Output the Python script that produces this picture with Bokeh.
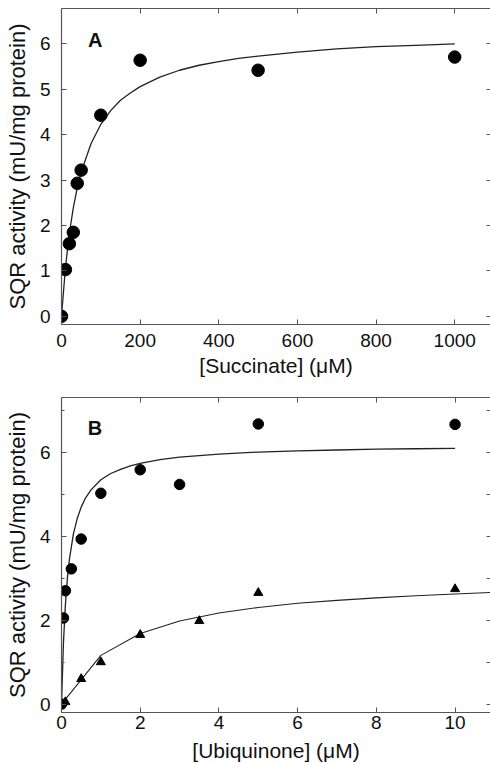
from bokeh.plotting import figure
from bokeh.layouts import column
from bokeh.models import LinearAxis, FixedTicker, Range1d, Label
from bokeh.embed import file_html
from bokeh.resources import INLINE

# ---------------- data ----------------
# Panel A: succinate titration
succinate = [0, 10, 20, 30, 40, 50, 100, 200, 500, 1000]
sqr_a = [0, 1.03, 1.6, 1.85, 2.93, 3.22, 4.43, 5.64, 5.42, 5.71]
fit_a_x = [0, 10, 20, 30, 40, 50, 75, 100, 125, 150, 175, 200, 250, 300, 350, 400, 450,
           500, 600, 700, 800, 900, 1000]
fit_a_y = [0, 1.07, 1.83, 2.39, 2.83, 3.18, 3.80, 4.23, 4.53, 4.76, 4.92, 5.06, 5.27, 5.42,
           5.53, 5.61, 5.68, 5.73, 5.82, 5.89, 5.94, 5.97, 6.0]

# Panel B: ubiquinone titration (circles and triangles)
ubq_c = [0, 0.05, 0.1, 0.25, 0.5, 1, 2, 3, 5, 10]
sqr_b_c = [0, 2.05, 2.7, 3.22, 3.93, 5.02, 5.58, 5.23, 6.67, 6.66]
fit_bc_x = [0, 0.05, 0.1, 0.15, 0.2, 0.3, 0.4, 0.5, 0.6, 0.75, 1, 1.25, 1.5, 1.75, 2, 2.5,
            3, 4, 5, 6, 7, 8, 9, 10]
fit_bc_y = [0, 1.47, 2.38, 3.0, 3.44, 4.04, 4.42, 4.69, 4.89, 5.10, 5.34, 5.49, 5.59, 5.67,
            5.73, 5.82, 5.88, 5.95, 6.0, 6.03, 6.05, 6.07, 6.08, 6.09]

ubq_t = [0.1, 0.5, 1, 2, 3.5, 5, 10]
sqr_b_t = [0.05, 0.6, 1.0, 1.65, 1.98, 2.65, 2.74]
fit_bt_x = [0, 1, 2, 3, 4, 5, 6, 7, 8, 9, 10, 11]
fit_bt_y = [0, 1.16, 1.68, 1.98, 2.17, 2.30, 2.40, 2.47, 2.53, 2.58, 2.62, 2.66]

xticks_a = [0, 200, 400, 600, 800, 1000]
yticks_a = [0, 1, 2, 3, 4, 5, 6]
xticks_b = [0, 2, 4, 6, 8, 10]
yticks_b = [0, 2, 4, 6]
yminor_b = [0, 1, 2, 3, 4, 5, 6, 7]

FONT = "Liberation Sans"
AXC = "#555555"
TXT = "#111111"


def style_axis(ax, ticks, minor=None, tick_in=5):
    ax.ticker = FixedTicker(ticks=ticks, minor_ticks=minor or [])
    ax.axis_line_color = AXC
    ax.axis_line_width = 1.2
    ax.major_tick_line_color = AXC
    ax.minor_tick_line_color = AXC
    ax.major_tick_in = tick_in
    ax.major_tick_out = 0
    ax.minor_tick_in = 3
    ax.minor_tick_out = 0
    ax.major_label_text_font = FONT
    ax.major_label_text_font_size = "19px"
    ax.major_label_text_color = TXT
    ax.axis_label_text_font = FONT
    ax.axis_label_text_font_size = "21px"
    ax.axis_label_text_font_style = "normal"
    ax.axis_label_text_color = TXT


def blank_axis(ticks, minor=None, line=True, tick_in=5):
    ax = LinearAxis()
    style_axis(ax, ticks, minor, tick_in)
    ax.major_label_overrides = {t: "" for t in ticks}
    ax.major_label_text_font_size = "0px"
    ax.major_label_standoff = 0
    if not line:
        ax.axis_line_color = None
    return ax


def make_fig(height, xr, yr, mtop, mbottom):
    p = figure(width=490, height=height, x_range=Range1d(*xr), y_range=Range1d(*yr),
               output_backend="svg", toolbar_location=None,
               min_border_left=61, min_border_right=0,
               min_border_top=mtop, min_border_bottom=mbottom)
    p.outline_line_color = None
    p.grid.visible = False
    p.background_fill_color = "white"
    p.border_fill_color = "white"
    return p


def style_y(ax):
    ax.axis_label = "SQR activity (mU/mg protein)"
    ax.axis_label_text_font_size = "22px"
    ax.major_label_standoff = 11
    ax.axis_label_standoff = 7


# ---------------- panel A ----------------
pa = make_fig(385, (0, 1091), (-0.18, 6.78), 8, 61)
style_axis(pa.xaxis[0], xticks_a)
style_axis(pa.yaxis[0], yticks_a)
style_y(pa.yaxis[0])
pa.xaxis[0].axis_label = "[Succinate] (\u03bcM)"
pa.xaxis[0].major_label_standoff = 9
pa.xaxis[0].axis_label_standoff = 4
pa.add_layout(blank_axis(xticks_a), "above")
pa.add_layout(blank_axis(yticks_a, line=False, tick_in=4), "right")

pa.line(fit_a_x, fit_a_y, line_color="#222222", line_width=1.3)
pa.scatter(succinate, sqr_a, marker="circle", size=12.5, fill_color="black", line_color="black")
pa.add_layout(Label(x=86, y=6.08, text="A", text_align="center", text_baseline="middle",
                    text_font=FONT, text_font_style="bold", text_font_size="20px", text_color=TXT))

# ---------------- panel B ----------------
pb = make_fig(379, (0, 10.9), (-0.2, 7.3), 12, 50)
style_axis(pb.xaxis[0], xticks_b)
style_axis(pb.yaxis[0], yticks_b, yminor_b)
style_y(pb.yaxis[0])
pb.xaxis[0].axis_label = "[Ubiquinone] (\u03bcM)"
pb.xaxis[0].major_label_standoff = 3
pb.xaxis[0].axis_label_standoff = 7
pb.add_layout(blank_axis(xticks_b), "above")
pb.add_layout(blank_axis(yminor_b, line=False, tick_in=4), "right")

pb.line(fit_bc_x, fit_bc_y, line_color="#222222", line_width=1.3)
pb.line(fit_bt_x, fit_bt_y, line_color="#222222", line_width=1.1)
pb.scatter(ubq_c, sqr_b_c, marker="circle", size=10.5, fill_color="black", line_color="black")
pb.scatter(ubq_t, sqr_b_t, marker="triangle", size=9, fill_color="black", line_color="black")
pb.add_layout(Label(x=0.85, y=6.58, text="B", text_align="center", text_baseline="middle",
                    text_font=FONT, text_font_style="bold", text_font_size="20px", text_color=TXT))

layout = column(pa, pb, spacing=0)
open("out.html", "w").write(file_html(layout, INLINE))
